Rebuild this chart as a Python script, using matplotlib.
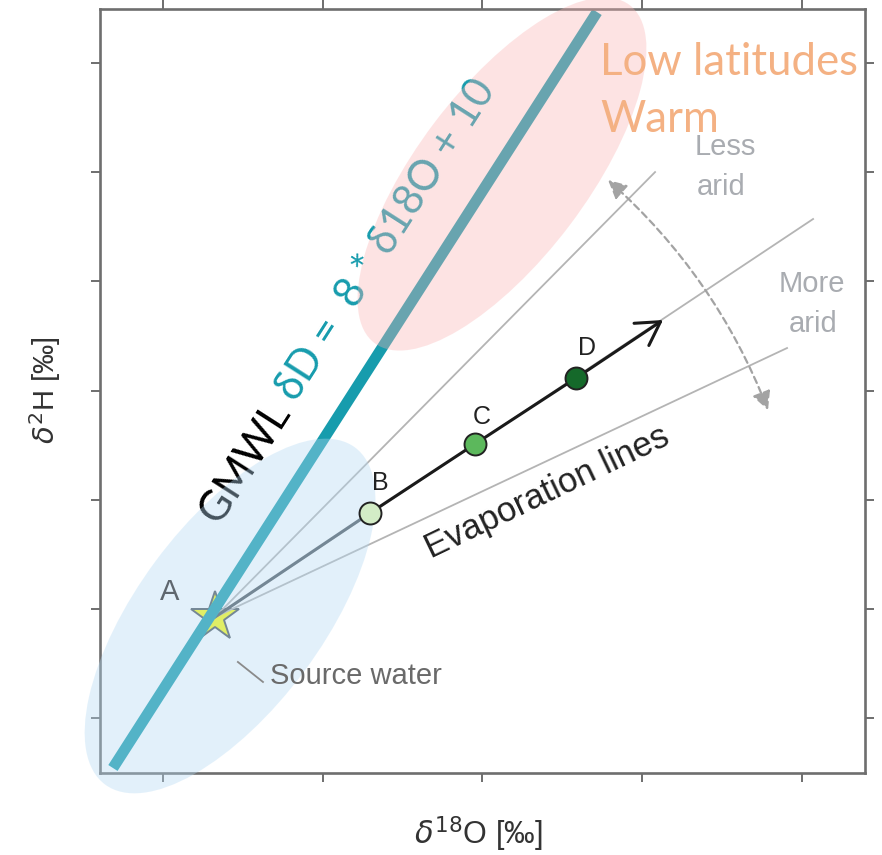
import matplotlib
matplotlib.use("Agg")
import matplotlib.pyplot as plt
import numpy as np
from matplotlib.patches import Ellipse, FancyArrowPatch

# Schematic dual-isotope plot (no tick values, arbitrary units)
gmwl_x = [0.687, 3.717]
gmwl_y = [0.542, 7.467]

source_x, source_y = 1.326, 1.925

# evaporation line end points (all start at source water A)
evap_end_x = [4.080, 5.069, 4.906]
evap_end_y = [6.001, 5.571, 4.389]

# evaporated samples B, C, D and arrow tip
pts_label = ["B", "C", "D"]
pts_x = [2.296, 2.953, 3.585]
pts_y = [2.878, 3.510, 4.114]
pts_color = ["#d3ecc6", "#5cb85c", "#15692a"]
tip_x, tip_y = 4.130, 4.646

xticks = [1, 2, 3, 4, 5]
yticks = [1, 2, 3, 4, 5, 6, 7]

plt.rcParams['font.family'] = ['Liberation Sans', 'DejaVu Sans']

fig = plt.figure(figsize=(8.82, 8.55), dpi=100)
ax = fig.add_axes([100 / 882, 82 / 855, 765 / 882, 764 / 855])
ax.set_xlim(0.606, 5.394)
ax.set_ylim(0.496, 7.495)
ax.set_xticks(xticks)
ax.set_yticks(yticks)
ax.tick_params(direction='out', length=6.5, width=1.4, color='#6e6e6e',
               top=True, right=True, labelbottom=False, labelleft=False)
for s in ax.spines.values():
    s.set_linewidth(1.9)
    s.set_color('#6e6e6e')

# GMWL
teal = '#179cad'
ax.plot(gmwl_x, gmwl_y, color=teal, lw=7.9, solid_capstyle='butt', zorder=2)

# source water star (under the line)
ax.plot(source_x, source_y, marker='*', ms=37, mfc='#fbfb10', mec='#4d555c',
        mew=1.4, zorder=1.5)

# evaporation lines
for ex, ey in zip(evap_end_x, evap_end_y):
    ax.plot([source_x, ex], [source_y, ey], color='#b4b4b4', lw=1.3, zorder=1.6)
ax.plot([source_x, pts_x[0]], [source_y, pts_y[0]], color='#4d555c', lw=2.2, zorder=1.7)
ax.plot(pts_x, pts_y, color='#1a1a1a', lw=2.2, zorder=4)
ax.add_patch(FancyArrowPatch((pts_x[-1], pts_y[-1]), (tip_x, tip_y),
                             arrowstyle='->,head_length=0.55,head_width=0.32',
                             mutation_scale=30, color='#1a1a1a', lw=2.2,
                             shrinkA=0, shrinkB=0, zorder=4))
for lab, x, y, c in zip(pts_label, pts_x, pts_y, pts_color):
    ax.plot(x, y, 'o', ms=15.8, mfc=c, mec='#222222', mew=1.4, zorder=5)

# GMWL equation along the line: black "GMWL", teal equation after it
fig.canvas.draw()
renderer = fig.canvas.get_renderer()
p0 = ax.transData.transform((gmwl_x[0], gmwl_y[0]))
p1 = ax.transData.transform((gmwl_x[1], gmwl_y[1]))
ang = np.degrees(np.arctan2(p1[1] - p0[1], p1[0] - p0[0]))
eq_font = dict(fontsize=30, family=['Lato', 'DejaVu Sans'])
eq_txt = "δD =  8 * δ18O + 10"


def text_width(s):
    t = ax.text(0, 0, s, **eq_font)
    w = t.get_window_extent(renderer).width
    t.remove()
    return w


shift = text_width("GMWL " + eq_txt) - text_width(eq_txt)
start = ax.transData.transform((1.349, 2.770))
rad = np.radians(ang)
eq_start = ax.transData.inverted().transform(start + shift * np.array([np.cos(rad), np.sin(rad)]))
eq_kw = dict(rotation=ang, rotation_mode='anchor', ha='left', va='baseline', zorder=2.5, **eq_font)
ax.text(1.349, 2.770, "GMWL", color='black', **eq_kw)
ax.text(eq_start[0], eq_start[1], eq_txt, color=teal, **eq_kw)

# shaded regions
ax.add_patch(Ellipse((0.170, 0.2055), 0.549, 0.242, angle=53.5,
                     transform=ax.transAxes, facecolor=(181/255, 218/255, 244/255),
                     alpha=0.38, edgecolor='none', zorder=3, clip_on=False))
ax.add_patch(Ellipse((0.5255, 0.784), 0.554, 0.222, angle=53,
                     transform=ax.transAxes, facecolor=(250/255, 180/255, 180/255),
                     alpha=0.36, edgecolor='none', zorder=3, clip_on=False))

# labels
ax.text(1.044, 2.154, "A", fontsize=21, color='#5f676e', ha='center', va='center', zorder=5)
for lab, x, y in zip(pts_label, [2.358, 2.997, 3.654], [3.153, 3.757, 4.389]):
    ax.text(x, y, lab, fontsize=18, color='#222222', ha='center', va='center', zorder=5)
ax.plot([1.469, 1.626], [1.513, 1.330], color='#8a8a8a', lw=1.3, zorder=4)
ax.text(2.208, 1.385, "Source water", fontsize=21, color='#6a6a6a',
        ha='center', va='center', zorder=5)
ax.text(3.43, 2.99, "Evaporation lines", fontsize=25, color='#222222',
        rotation=25.6, rotation_mode='anchor', ha='center', va='baseline', zorder=5)

gray_txt = '#a9acb1'
ax.text(4.518, 6.157, "Less", fontsize=21, color=gray_txt, ha='center', va='baseline', zorder=5)
ax.text(4.493, 5.791, "arid", fontsize=21, color=gray_txt, ha='center', va='baseline', zorder=5)
ax.text(5.063, 4.902, "More", fontsize=21, color=gray_txt, ha='center', va='baseline', zorder=5)
ax.text(5.069, 4.536, "arid", fontsize=21, color=gray_txt, ha='center', va='baseline', zorder=5)

orange = '#f4b183'
ax.text(3.735, 6.890, "Low latitudes", fontsize=31.5, color=orange, family=['Lato', 'DejaVu Sans'],
        ha='left', va='baseline', zorder=5, clip_on=False)
ax.text(3.735, 6.37, "Warm", fontsize=31.5, color=orange, family=['Lato', 'DejaVu Sans'],
        ha='left', va='baseline', zorder=5)

# aridity arrow
ax.add_patch(FancyArrowPatch((3.786, 5.928), (4.787, 3.821),
                             arrowstyle='<|-|>,head_length=0.55,head_width=0.28',
                             connectionstyle='arc3,rad=-0.12', mutation_scale=20,
                             color='#a3a3a3', lw=1.6, linestyle=(0, (3, 2)),
                             shrinkA=0, shrinkB=0, zorder=4))

ax.set_xlabel(r"$\delta^{18}$O [‰]", fontsize=22, color='#333333')
ax.xaxis.set_label_coords(0.494, -0.080)
ax.xaxis.label.set_va('center')
ax.set_ylabel(r"$\delta^{2}$H [‰]", fontsize=21, color='#333333')
ax.yaxis.set_label_coords(-0.072, 0.501)
ax.yaxis.label.set_va('center')

fig.savefig("out.png", dpi=100)
